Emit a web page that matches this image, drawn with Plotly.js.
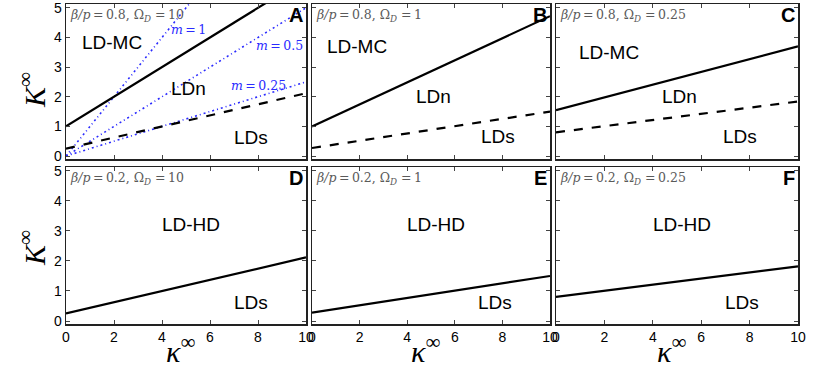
<!DOCTYPE html>
<html>
<head>
<meta charset="utf-8">
<script src="https://cdn.plot.ly/plotly-3.0.1.min.js"></script>
<style>
  html, body { margin: 0; padding: 0; background: #fff; }
  #plot { width: 822px; height: 377px; }
</style>
</head>
<body>
<div id="plot"></div>
<script>
// kappa range of every boundary line
var kappa = [0, 10];

// boundary lines, K value at kappa = 0 and kappa = 10
var solidA = [1.0, 6.0];
var dashA = [0.25, 2.12];
var solidB = [1.0, 4.72];
var dashB = [0.27, 1.5];
var solidC = [1.55, 3.7];
var dashC = [0.8, 1.84];
var solidD = [0.25, 2.12];
var solidE = [0.28, 1.5];
var solidF = [0.8, 1.82];

// blue reference lines in panel A (K = m * kappa)
var mValues = [1, 0.5, 0.25];

var panelLetters = ['A', 'B', 'C', 'D', 'E', 'F'];
var paramText = [
    ['0.8', '10'], ['0.8', '1'], ['0.8', '0.25'],
    ['0.2', '10'], ['0.2', '1'], ['0.2', '0.25']
];

var xTicks = [0, 2, 4, 6, 8, 10];
var yTicks = [0, 1, 2, 3, 4, 5];

var W = 822, H = 377;
var cols = [[66, 306], [312, 550], [556, 798]];
var rows = [[4, 159], [167, 324]];

var data = [];
var layout = {
    width: W,
    height: H,
    margin: {l: 0, r: 0, t: 0, b: 0},
    paper_bgcolor: '#fff',
    plot_bgcolor: '#fff',
    showlegend: false,
    annotations: []
};

function sfx(i) { return i === 0 ? '' : String(i + 1); }

for (var i = 0; i < 6; i++) {
    var c = i % 3, r = Math.floor(i / 3);
    var xa = 'xaxis' + sfx(i), ya = 'yaxis' + sfx(i);
    layout[xa] = {
        domain: [cols[c][0] / W, cols[c][1] / W],
        range: [0, 10],
        anchor: 'y' + sfx(i),
        tickvals: xTicks,
        showticklabels: r === 1,
        ticks: 'inside', ticklen: 4, tickcolor: '#444', tickwidth: 1,
        mirror: 'allticks',
        showline: true, linecolor: '#222', linewidth: 1.5,
        showgrid: false, zeroline: false,
        ticklabeloverflow: 'allow',
        tickfont: {family: 'Liberation Sans, Arial', size: 14, color: '#000'}
    };
    layout[ya] = {
        domain: [1 - rows[r][1] / H, 1 - rows[r][0] / H],
        range: [-0.1, 5.13],
        anchor: 'x' + sfx(i),
        tickvals: yTicks,
        showticklabels: c === 0,
        ticks: 'inside', ticklen: 4, tickcolor: '#444', tickwidth: 1,
        mirror: 'allticks',
        showline: true, linecolor: '#222', linewidth: 1.5,
        showgrid: false, zeroline: false,
        ticklabeloverflow: 'allow',
        tickfont: {family: 'Liberation Sans, Arial', size: 14, color: '#000'}
    };
}

function line(i, y, dash, color, width) {
    data.push({
        x: kappa, y: y, type: 'scatter', mode: 'lines',
        xaxis: 'x' + sfx(i), yaxis: 'y' + sfx(i),
        line: {color: color || '#000', width: width || 2.2, dash: dash || 'solid'},
        hoverinfo: 'skip'
    });
}

// blue m lines first so the black ones sit on top
mValues.forEach(function(m) {
    line(0, [0, m * 10], '2px,3px,1px,3px', '#2a2aff', 1.6);
});
line(0, solidA); line(0, dashA, 'dash');
line(1, solidB); line(1, dashB, 'dash');
line(2, solidC); line(2, dashC, 'dash');
line(3, solidD);
line(4, solidE);
line(5, solidF);

function note(i, x, y, text, opts) {
    var a = {
        xref: 'x' + sfx(i), yref: 'y' + sfx(i), x: x, y: y, text: text,
        showarrow: false,
        font: {family: 'Liberation Sans, Arial', size: 19, color: '#000'}
    };
    for (var k in opts) a[k] = opts[k];
    layout.annotations.push(a);
}

var serif = 'Liberation Serif, DejaVu Serif, serif';

for (var i = 0; i < 6; i++) {
    note(i, 0.1, 4.75,
        '<i>\u03b2/p</i>\u2009=\u2009' + paramText[i][0] + ', \u03a9<sub><i>D</i></sub> =\u2009' + paramText[i][1],
        {xanchor: 'left', font: {family: 'DejaVu Serif, serif', size: 12.5, color: '#5a5a5a'}});
    note(i, 9.95, 4.75, '<b>' + panelLetters[i] + '</b>',
        {xanchor: 'right', font: {family: 'Liberation Sans, Arial', size: 20, color: '#000'}});
}

// region names
note(0, 1.9, 3.83, 'LD-MC');
note(0, 5.1, 2.28, 'LDn');
note(0, 7.7, 0.63, 'LDs');
note(1, 1.9, 3.7, 'LD-MC');
note(1, 5.1, 2.0, 'LDn');
note(1, 7.8, 0.67, 'LDs');
note(2, 2.2, 3.5, 'LD-MC');
note(2, 5.1, 2.0, 'LDn');
note(2, 7.6, 0.67, 'LDs');
for (var j = 3; j < 6; j++) {
    note(j, 5.2, 3.2, 'LD-HD');
    note(j, 7.7, 0.63, 'LDs');
}

// labels of the blue lines
var mPos = [[5.1, 4.26], [8.9, 3.73], [8.0, 2.38]];
for (var k = 0; k < mValues.length; k++) {
    note(0, mPos[k][0], mPos[k][1],
        '<i>m</i>\u2009=\u2009' + mValues[k],
        {font: {family: 'DejaVu Serif, serif', size: 12.5, color: '#2a2aff'}});
}

// axis titles
[90, 248].forEach(function(yc) {
    layout.annotations.push({
        xref: 'paper', yref: 'paper', x: 32 / W, y: 1 - yc / H,
        xanchor: 'center', yanchor: 'middle',
        text: '<i>K</i><sup>\u221e</sup>', textangle: -90, showarrow: false,
        font: {family: serif, size: 30, color: '#000'}
    });
});
cols.forEach(function(cc) {
    layout.annotations.push({
        xref: 'paper', yref: 'paper', x: ((cc[0] + cc[1]) / 2 - 6) / W, y: 1 - 349 / H,
        xanchor: 'center', yanchor: 'middle',
        text: '<i>\u03ba</i><sup>\u221e</sup>', showarrow: false,
        font: {family: serif, size: 30, color: '#000'}
    });
});

Plotly.newPlot('plot', data, layout, {staticPlot: true});
</script>
</body>
</html>
